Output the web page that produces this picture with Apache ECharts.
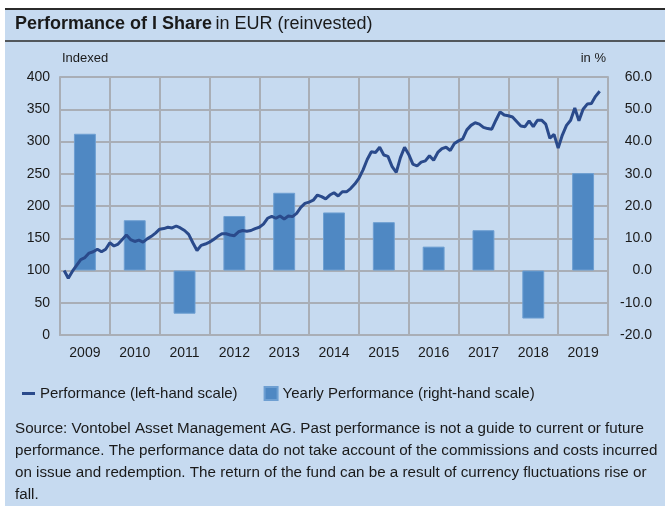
<!DOCTYPE html>
<html>
<head>
<meta charset="utf-8">
<script src="https://cdn.jsdelivr.net/npm/echarts@6/dist/echarts.min.js"></script>
<style>
  html, body { margin: 0; padding: 0; background: #fff; }
  #main { width: 665px; height: 506px; }
</style>
</head>
<body>
<div id="main"></div>
<script>
// yearly columns
const years = ["2009", "2010", "2011", "2012", "2013", "2014", "2015", "2016", "2017", "2018", "2019"];
const yearlyPerf = [42.4, 15.6, -13.4, 16.9, 24.1, 18.0, 15.0, 7.4, 12.5, -14.9, 30.2];

// indexed performance, month-end values from Jan 2009 to Oct 2019
const perfIndex = [
  100, 88, 99, 108, 117, 120, 127, 129, 133, 129, 133, 143,
  138, 141, 148, 155, 148, 145, 147, 144, 149, 153, 158, 164,
  165, 167, 166, 169, 166, 162, 156, 143, 131, 139, 141, 144,
  148, 153, 157, 157, 155, 154, 160, 162, 161, 162, 165, 167,
  172, 181, 184, 181, 184.5, 180, 184.5, 183.5, 188.6, 198, 204, 206,
  209, 217, 214.5, 211, 217, 220.6, 215.5, 222, 222, 227, 234, 243,
  256, 272, 284, 283, 291, 279, 277, 261, 252, 275, 291, 280,
  265, 262, 268, 270, 278, 271, 283, 289, 291, 286, 297, 301,
  304, 318, 325, 329, 327, 322, 320, 319, 333, 346, 341, 340,
  338, 331, 324, 323, 332, 323, 333, 333, 327, 305, 311, 290,
  310, 325, 333, 352, 332, 350, 358, 359, 370, 378
];

const leftTicks = { min: 0, max: 400, interval: 50 };
const rightTicks = { min: -20, max: 60, interval: 10 };

const lineName = "Performance (left-hand scale)";
const barName = "Yearly Performance (right-hand scale)";

const textColor = "#1a1a1a";
const gridColor = "#a9aeb6";

let myChart = echarts.init(document.getElementById("main"));

// month index -> value pairs for the line
const lineData = perfIndex.map((v, i) => [i + 1, v]);

myChart.setOption({
  backgroundColor: "#ffffff",
  animation: false,
  textStyle: { fontFamily: "Liberation Sans" },
  graphic: [
    { type: "rect", shape: { x: 5, y: 9, width: 660, height: 497 }, style: { fill: "#c6daf0" }, z: -10 },
    { type: "line", shape: { x1: 5, y1: 9, x2: 665, y2: 9 }, style: { stroke: "#2b2b2b", lineWidth: 2 } },
    { type: "line", shape: { x1: 5, y1: 41, x2: 665, y2: 41 }, style: { stroke: "#2b2b2b", lineWidth: 1.5 } },
    {
      type: "text", left: 15, top: 15,
      style: {
        text: "{b|Performance of I Share} {n|in EUR (reinvested)}",
        rich: {
          b: { fontSize: 18, fontWeight: "bold", fill: textColor, fontFamily: "Liberation Sans" },
          n: { fontSize: 18, fill: textColor, fontFamily: "Liberation Sans" }
        }
      }
    },
    {
      type: "text", left: 15, top: 418,
      style: {
        text: "Source: Vontobel Asset Management AG. Past performance is not a guide to current or future\n" +
              "performance. The performance data do not take account of the commissions and costs incurred\n" +
              "on issue and redemption. The return of the fund can be a result of currency fluctuations rise or\n" +
              "fall.",
        fontSize: 15.2, lineHeight: 22, fill: textColor, fontFamily: "Liberation Sans"
      }
    }
  ],
  legend: {
    left: 17, top: 381,
    itemWidth: 13, itemHeight: 13, itemGap: 26,
    textStyle: { fontSize: 15, color: textColor },
    data: [
      { name: lineName, icon: "path://M0,0 H13 V3 H0 Z", itemStyle: { color: "#2a4a8b" } },
      { name: barName, icon: "rect" }
    ]
  },
  grid: { left: 60, right: 57, top: 77, bottom: 171 },
  xAxis: [
    {
      type: "category",
      data: years,
      axisLine: { show: true, lineStyle: { color: gridColor, width: 2 } },
      axisTick: { show: false },
      axisLabel: { color: textColor, fontSize: 14, margin: 11 },
      splitLine: { show: true, lineStyle: { color: gridColor, width: 2 } }
    },
    {
      type: "value",
      min: 0, max: 132,
      show: false
    }
  ],
  yAxis: [
    {
      type: "value",
      min: leftTicks.min, max: leftTicks.max, interval: leftTicks.interval,
      name: "Indexed",
      nameLocation: "end",
      nameGap: 12,
      nameTextStyle: { color: textColor, fontSize: 13, align: "left", padding: [0, 0, 0, 2] },
      axisLine: { show: true, lineStyle: { color: gridColor, width: 2 } },
      axisTick: { show: false },
      axisLabel: { color: textColor, fontSize: 14, margin: 10 },
      splitLine: { show: true, lineStyle: { color: gridColor, width: 2 } }
    },
    {
      type: "value",
      min: rightTicks.min, max: rightTicks.max, interval: rightTicks.interval,
      name: "in %",
      nameLocation: "end",
      nameGap: 12,
      nameTextStyle: { color: textColor, fontSize: 13, align: "right", padding: [0, 2, 0, 0] },
      axisLine: { show: true, lineStyle: { color: gridColor, width: 2 } },
      axisTick: { show: false },
      axisLabel: {
        color: textColor, fontSize: 14, margin: 44, align: "right",
        formatter: v => v.toFixed(1)
      },
      splitLine: { show: false }
    }
  ],
  series: [
    {
      name: barName,
      type: "bar",
      xAxisIndex: 0,
      yAxisIndex: 1,
      data: yearlyPerf,
      barWidth: "44%",
      itemStyle: { color: "#4f88c3", borderColor: "#6e9fd2", borderWidth: 1 },
      z: 2
    },
    {
      name: lineName,
      type: "line",
      xAxisIndex: 1,
      yAxisIndex: 0,
      data: lineData,
      showSymbol: false,
      lineStyle: { color: "#2a4a8b", width: 3 },
      itemStyle: { color: "#2a4a8b" },
      z: 3
    }
  ]
});
</script>
</body>
</html>
